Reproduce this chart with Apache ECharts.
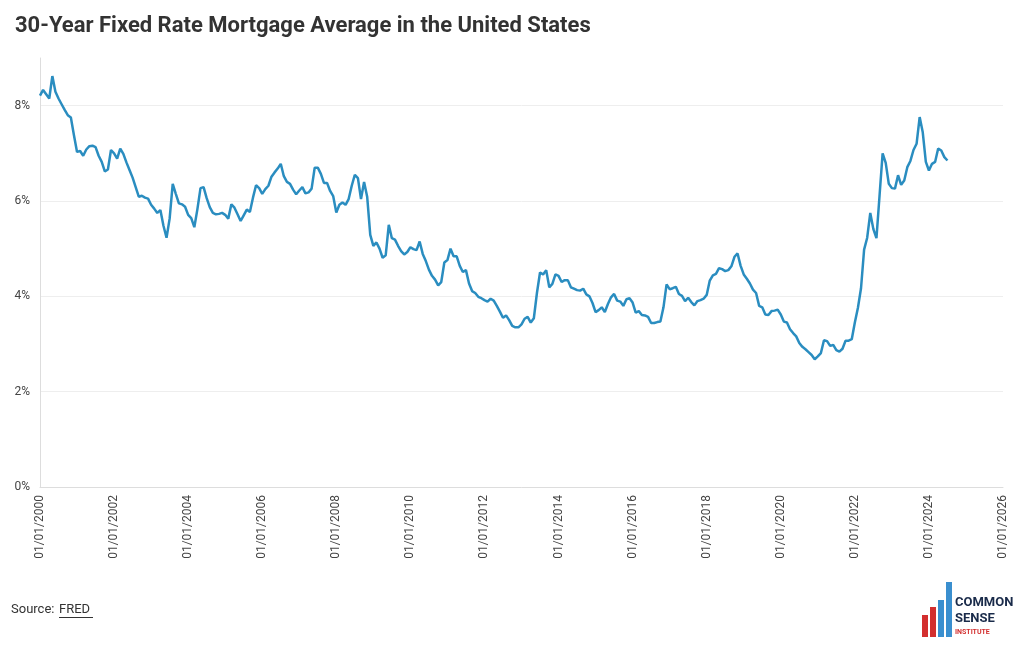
<!DOCTYPE html>
<html><head><meta charset="utf-8">
<script src="https://cdn.jsdelivr.net/npm/echarts@6/dist/echarts.min.js"></script>
<style>html,body{margin:0;padding:0;background:#fff}#c{width:1020px;height:650px}</style>
</head><body><div id="c"></div>
<script>
// monthly 30-year rate, Jan 2000 .. Jul 2024
var startYear = 2000;
var rates = [
 8.21,8.33,8.24,8.15,8.62,8.29,8.15,8.03,7.91,7.80,7.75,7.38,
 7.03,7.05,6.95,7.08,7.15,7.16,7.13,6.95,6.82,6.62,6.66,7.07,
 7.00,6.89,7.10,6.99,6.81,6.65,6.49,6.29,6.09,6.11,6.07,6.05,
 5.92,5.84,5.75,5.81,5.48,5.23,5.63,6.36,6.15,5.95,5.93,5.88,
 5.71,5.64,5.45,5.83,6.27,6.29,6.06,5.87,5.75,5.72,5.73,5.75,
 5.71,5.63,5.93,5.86,5.72,5.58,5.70,5.82,5.77,6.07,6.33,6.27,
 6.15,6.25,6.32,6.51,6.60,6.68,6.78,6.52,6.40,6.36,6.24,6.14,
 6.22,6.29,6.16,6.18,6.26,6.70,6.70,6.57,6.38,6.38,6.21,6.10,
 5.76,5.92,5.97,5.92,6.04,6.32,6.55,6.48,6.04,6.40,6.09,5.29,
 5.06,5.13,5.00,4.81,4.86,5.50,5.22,5.19,5.06,4.95,4.88,4.93,
 5.03,4.99,4.97,5.15,4.89,4.74,4.56,4.43,4.35,4.23,4.30,4.71,
 4.76,5.00,4.84,4.84,4.64,4.51,4.55,4.27,4.11,4.07,3.99,3.96,
 3.92,3.89,3.95,3.91,3.80,3.68,3.55,3.60,3.50,3.38,3.35,3.35,
 3.41,3.53,3.57,3.45,3.54,4.07,4.50,4.46,4.55,4.19,4.26,4.46,
 4.43,4.30,4.34,4.34,4.19,4.16,4.13,4.12,4.16,4.04,4.00,3.86,
 3.67,3.71,3.77,3.67,3.84,3.98,4.05,3.91,3.89,3.80,3.94,3.96,
 3.87,3.66,3.69,3.61,3.60,3.57,3.44,3.44,3.46,3.47,3.77,4.25,
 4.15,4.17,4.20,4.05,4.01,3.90,3.97,3.88,3.81,3.90,3.92,3.95,
 4.03,4.33,4.44,4.47,4.59,4.57,4.53,4.55,4.63,4.83,4.90,4.64,
 4.46,4.37,4.27,4.14,4.07,3.80,3.77,3.62,3.61,3.69,3.70,3.72,
 3.62,3.47,3.45,3.31,3.23,3.16,3.02,2.94,2.89,2.83,2.77,2.68,
 2.74,2.81,3.08,3.06,2.96,2.98,2.87,2.84,2.90,3.07,3.07,3.10,
 3.45,3.76,4.17,4.98,5.23,5.75,5.41,5.22,6.11,7.00,6.80,6.36,
 6.27,6.26,6.54,6.34,6.43,6.71,6.84,7.07,7.20,7.76,7.44,6.82,
 6.64,6.78,6.82,7.10,7.06,6.92,6.85
];
var series = rates.map(function (v, i) { return [startYear + i / 12, v]; });

var chart = echarts.init(document.getElementById('c'));
chart.setOption({
    animation: false,
    title: {text: '30-Year Fixed Rate Mortgage Average in the United States', left: 10, top: 10,
        textStyle: {fontFamily: 'Roboto', fontSize: 22, fontWeight: 'bold', color: '#333'}},
    grid: {left: 40, right: 17, top: 58, bottom: 163},
    xAxis: {
        type: 'value', min: 2000, max: 2026, interval: 2,
        axisLine: {lineStyle: {color: '#ddd'}}, axisTick: {show: false}, splitLine: {show: false},
        axisLabel: {rotate: 90, color: '#444', fontFamily: 'Roboto', fontSize: 12,
            formatter: function (v) { return '01/01/' + v; }}
    },
    yAxis: {
        type: 'value', min: 0, max: 9, interval: 2,
        axisLine: {show: true, lineStyle: {color: '#ddd'}}, axisTick: {show: false},
        splitLine: {lineStyle: {color: '#eee'}, showMaxLine: false},
        axisLabel: {color: '#444', fontFamily: 'Roboto', fontSize: 12, margin: 10, showMaxLabel: false,
            formatter: function (v) { return v === 9 ? '' : v + '%'; }}
    },
    series: [{type: 'line', data: series, showSymbol: false,
        lineStyle: {color: '#2a8dc0', width: 2.5}}],
    graphic: [
        {type: 'text', left: 11, top: 603, style: {text: 'Source:', fill: '#333', font: '13px Roboto'}},
        {type: 'text', left: 59, top: 603, style: {text: 'FRED', fill: '#333', font: '13px Roboto'}},
        {type: 'rect', left: 59, top: 617, shape: {width: 34, height: 1}, style: {fill: '#333'}},
        {type: 'rect', left: 922, top: 615, shape: {width: 6, height: 22}, style: {fill: '#d32f2f'}},
        {type: 'rect', left: 930, top: 607, shape: {width: 6, height: 30}, style: {fill: '#d32f2f'}},
        {type: 'rect', left: 938, top: 600, shape: {width: 6, height: 37}, style: {fill: '#3a8fcf'}},
        {type: 'rect', left: 946, top: 582, shape: {width: 6, height: 55}, style: {fill: '#3a8fcf'}},
        {type: 'text', left: 955, top: 595, style: {text: 'COMMON\nSENSE', fill: '#1a2b4a',
            font: 'bold 13px "Liberation Sans Narrow", Roboto', lineHeight: 16}},
        {type: 'text', left: 955, top: 629, style: {text: 'INSTITUTE', fill: '#d32f2f', font: 'bold 7px Roboto'}}
    ]
});
</script></body></html>
